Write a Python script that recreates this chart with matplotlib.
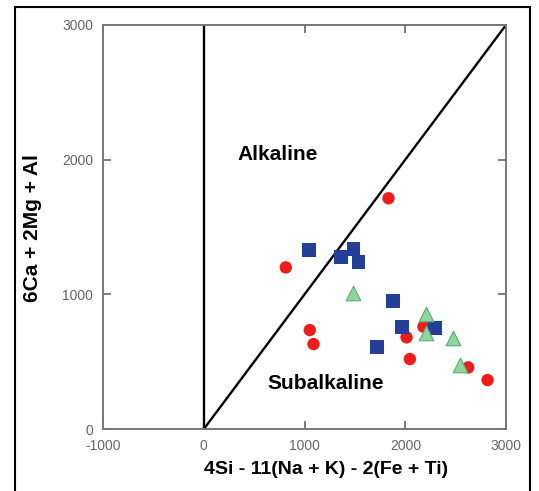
import matplotlib.pyplot as plt
from matplotlib.patches import Rectangle

# data
red_x = [1833, 814, 1052, 1089, 2012, 2180, 2045, 2624, 2816]
red_y = [1713, 1200, 735, 631, 681, 760, 520, 458, 364]

blue_x = [1046, 1360, 1486, 1535, 1879, 1968, 2293, 1720]
blue_y = [1329, 1274, 1336, 1237, 950, 760, 750, 609]

green_x = [1479, 2210, 2210, 2475, 2541]
green_y = [1007, 854, 710, 673, 475]

x_ticks = [-1000, 0, 1000, 2000, 3000]
x_labels = ['-1000', '0', '1000', '2000', '3000']
y_ticks = [0, 1000, 2000, 3000]

plt.rcParams['font.family'] = ['Liberation Sans', 'DejaVu Sans']

fig = plt.figure(figsize=(5.39, 4.91), dpi=100)
ax = fig.add_axes([0.191, 0.126, 0.748, 0.8235])

# field boundaries
ax.plot([0, 0], [0, 3000], color='black', lw=1.7, zorder=2)
ax.plot([0, 3000], [0, 3000], color='black', lw=1.7, zorder=2)

ax.scatter(red_x, red_y, s=80, marker='o', color='#ee1d1d', edgecolors='none', zorder=3)
ax.scatter(blue_x, blue_y, s=100, marker='s', color='#233f98', edgecolors='none', zorder=3)
ax.scatter(green_x, green_y, s=110, marker='^', color='#92d3a1', edgecolors='#55b26f',
           linewidths=0.8, zorder=3)

ax.text(734, 2034, 'Alkaline', fontsize=15, fontweight='bold', ha='center', va='center')
ax.text(1211, 341, 'Subalkaline', fontsize=15, fontweight='bold', ha='center', va='center')

ax.set_xlim(-1000, 3000)
ax.set_ylim(0, 3000)
ax.set_xticks(x_ticks, x_labels)
ax.set_yticks(y_ticks)
ax.tick_params(direction='in', length=6, width=1.2, color='#666666', labelsize=10,
               labelcolor='#666666', top=True, right=True, pad=7)
for sp in ax.spines.values():
    sp.set_color('#777777')
    sp.set_linewidth(1.4)

ax.set_xlabel('4Si - 11(Na + K) - 2(Fe + Ti)', fontsize=14, fontweight='bold')
ax.set_ylabel('6Ca + 2Mg + Al', fontsize=15, fontweight='bold')
ax.xaxis.set_label_coords(0.553, -0.101)
ax.yaxis.set_label_coords(-0.174, 0.497)
ax.xaxis.label.set_va('center')
ax.yaxis.label.set_va('center')

# outer frame of the figure
fig.patches.append(Rectangle((14.5 / 539, -0.05), (530 - 14.5) / 539, 1.05 - 7 / 491,
                             transform=fig.transFigure, fill=False, edgecolor='black',
                             lw=1.5))

fig.savefig('out.png', dpi=100)
